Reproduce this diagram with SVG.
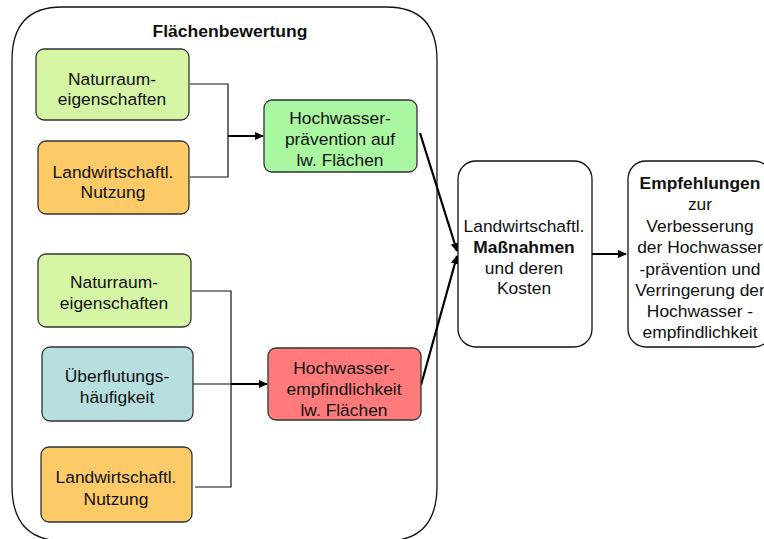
<svg xmlns="http://www.w3.org/2000/svg" width="764" height="539" viewBox="0 0 764 539">
<style>
text{font-family:"Liberation Sans",Arial,sans-serif;font-size:17.4px;fill:#111;text-anchor:middle}
.b{font-weight:bold}
.box{stroke:#333;stroke-width:1.3}
.w{fill:#fff;stroke:#111;stroke-width:1.3}
.thin{fill:none;stroke:#111;stroke-width:1.2}
.thick{fill:none;stroke:#000;stroke-width:2.2;marker-end:url(#ah)}
</style>
<defs>
<marker id="ah" markerWidth="10" markerHeight="10" refX="8" refY="5" orient="auto" markerUnits="userSpaceOnUse">
<path d="M0,1 L9,5 L0,9 Z" fill="#000"/>
</marker>
</defs>
<rect width="764" height="539" fill="#fff"/>
<g id="container">
<path d="M12,60 Q12,7 62,7 L386,7 Q437,7 437,60 L437,486 Q437,541 386,541 L64,541 Q12,541 12,486 Z" fill="none" stroke="#111" stroke-width="1.3"/>
<text class="b" x="230" y="37" font-size="16" textLength="155" lengthAdjust="spacingAndGlyphs">Flächenbewertung</text>
</g>
<g id="connectors">
<polyline class="thin" points="190,84 228,84 228,177 190,177"/>
<line class="thick" x1="228" y1="136" x2="263" y2="136"/>
<polyline class="thin" points="192,291 231,291 231,487 195,487"/>
<line class="thin" x1="193" y1="384" x2="231" y2="384"/>
<line class="thick" x1="231" y1="384" x2="267" y2="384"/>
<line class="thick" x1="420" y1="133" x2="457" y2="251"/>
<line class="thick" x1="421" y1="385" x2="457" y2="256"/>
<line class="thick" x1="588" y1="254" x2="626" y2="254"/>
</g>
<g id="n1">
<rect class="box" x="36" y="49" width="153" height="71" rx="8" fill="#d5f5a5"/>
<text x="112" y="85">Naturraum-</text>
<text x="112" y="105">eigenschaften</text>
</g>
<g id="n2">
<rect class="box" x="38" y="141" width="151" height="73" rx="8" fill="#fdca68"/>
<text x="113" y="178">Landwirtschaftl.</text>
<text x="113" y="198">Nutzung</text>
</g>
<g id="n3">
<rect class="box" x="264" y="100" width="153" height="72" rx="8" fill="#a9f7a0"/>
<text x="340" y="124">Hochwasser-</text>
<text x="340" y="145">prävention auf</text>
<text x="340" y="166">lw. Flächen</text>
</g>
<g id="n4">
<rect class="box" x="38" y="254" width="153" height="73" rx="8" fill="#d5f5a5"/>
<text x="114" y="288">Naturraum-</text>
<text x="114" y="309">eigenschaften</text>
</g>
<g id="n5">
<rect class="box" x="42" y="347" width="151" height="74" rx="8" fill="#b8dfe0"/>
<text x="117" y="382">Überflutungs-</text>
<text x="117" y="403">häufigkeit</text>
</g>
<g id="n6">
<rect class="box" x="41" y="447" width="151" height="75" rx="8" fill="#fdca68"/>
<text x="116" y="483">Landwirtschaftl.</text>
<text x="116" y="505">Nutzung</text>
</g>
<g id="n7">
<rect class="box" x="268" y="348" width="153" height="72" rx="8" fill="#ff7b7b"/>
<text x="344" y="374">Hochwasser-</text>
<text x="344" y="395">empfindlichkeit</text>
<text x="344" y="416">lw. Flächen</text>
</g>
<g id="n8">
<rect class="w" x="458" y="161" width="134" height="186" rx="18"/>
<text x="524" y="232">Landwirtschaftl.</text>
<text class="b" x="524" y="253">Maßnahmen</text>
<text x="524" y="274">und deren</text>
<text x="524" y="294">Kosten</text>
</g>
<g id="n9">
<rect class="w" x="628" y="161" width="144" height="186" rx="18"/>
<text class="b" x="700" y="189">Empfehlungen</text>
<text x="700" y="210">zur</text>
<text x="700" y="232">Verbesserung</text>
<text x="700" y="253">der Hochwasser</text>
<text x="700" y="275">-prävention und</text>
<text x="700" y="296">Verringerung der</text>
<text x="700" y="317">Hochwasser -</text>
<text x="700" y="338">empfindlichkeit</text>
</g>
</svg>
